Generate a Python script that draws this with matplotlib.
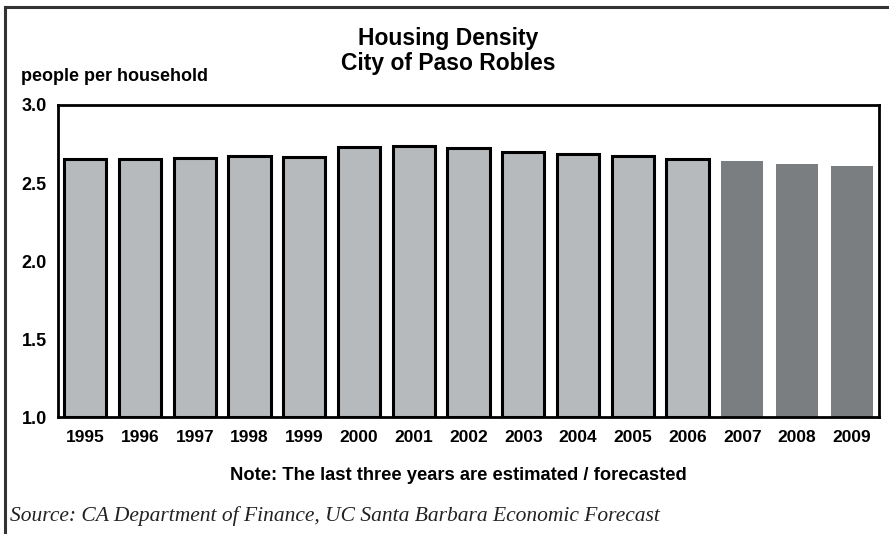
import matplotlib
matplotlib.use("Agg")
import matplotlib.pyplot as plt
from matplotlib.lines import Line2D

YEARS = ["1995", "1996", "1997", "1998", "1999", "2000", "2001", "2002",
         "2003", "2004", "2005", "2006", "2007", "2008", "2009"]
DENSITY = [2.656, 2.652, 2.660, 2.675, 2.668, 2.733, 2.737, 2.722,
           2.700, 2.688, 2.673, 2.656, 2.641, 2.622, 2.611]
FORECAST = [False] * 12 + [True] * 3
Y_TICKS = [1.0, 1.5, 2.0, 2.5, 3.0]

LIGHT = "#b6babd"
DARK = "#7a7e80"
SANS = "Liberation Sans"

fig = plt.figure(figsize=(8.89, 5.34), dpi=100)
ax = fig.add_axes([0.0652, 0.219, 0.9236, 0.5844])

x = list(range(len(YEARS)))
for xi, v, fc in zip(x, DENSITY, FORECAST):
    if fc:
        ax.bar(xi, v - 1.0, bottom=1.0, width=0.77, color=DARK, lw=0, zorder=2)
    else:
        ax.bar(xi, v - 1.0, bottom=1.0, width=0.77, color=LIGHT,
               edgecolor="black", lw=2.2, zorder=2)

ax.set_xlim(-0.5, len(YEARS) - 0.5)
ax.set_ylim(1.0, 3.0)
ax.set_yticks(Y_TICKS)
ax.set_yticklabels([f"{t:.1f}" for t in Y_TICKS], fontfamily=SANS,
                   fontweight="bold", fontsize=13)
ax.set_xticks(x)
ax.set_xticklabels(YEARS, fontfamily=SANS, fontweight="bold", fontsize=12.5)
ax.tick_params(axis="y", length=0, pad=8)
ax.tick_params(axis="x", length=0, pad=9)
for s in ax.spines.values():
    s.set_linewidth(2.0)
    s.set_zorder(3)

fig.text(0.504, 0.905, "Housing Density\nCity of Paso Robles", ha="center",
         va="center", fontfamily=SANS, fontweight="bold", fontsize=16.5,
         linespacing=1.1)
fig.text(0.024, 0.856, "people per household", ha="left", va="center",
         fontfamily=SANS, fontweight="bold", fontsize=13)
fig.text(0.516, 0.11, "Note: The last three years are estimated / forecasted",
         ha="center", va="center", fontfamily=SANS, fontweight="bold", fontsize=13.2)
fig.text(0.011, 0.034,
         "Source: CA Department of Finance, UC Santa Barbara Economic Forecast",
         ha="left", va="center", fontfamily="Liberation Serif", style="italic",
         fontsize=15.5, color="#222222")

# frame lines at top and left of the picture
fig.add_artist(Line2D([0.006, 1.0], [0.986, 0.986], color="#333333", lw=2.2,
                      transform=fig.transFigure))
fig.add_artist(Line2D([0.006, 0.006], [0.0, 0.986], color="#333333", lw=2.2,
                      transform=fig.transFigure))

fig.savefig("out.png", dpi=100, facecolor="white")
